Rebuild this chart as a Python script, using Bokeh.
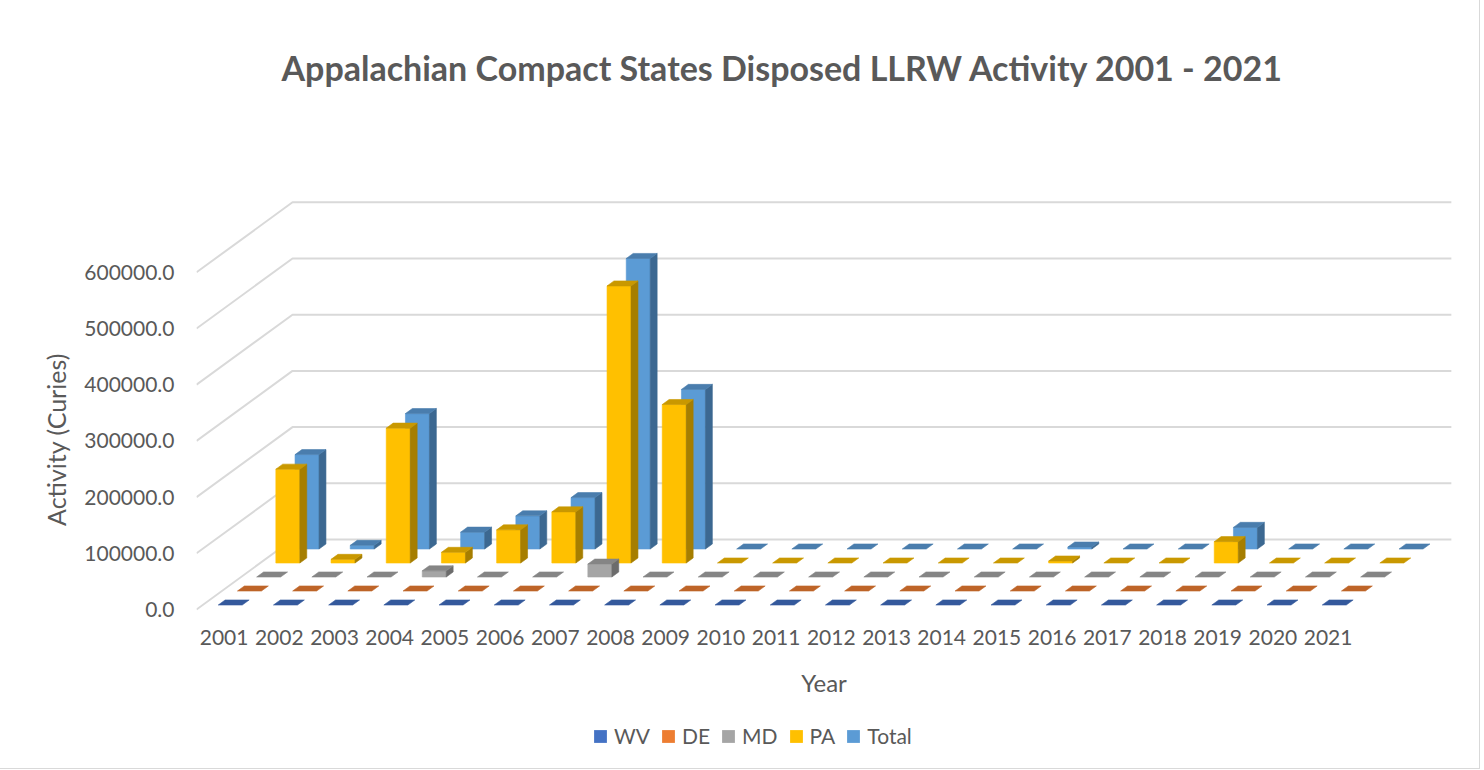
import numpy as np
from bokeh.plotting import figure
from bokeh.models import Range1d, FixedTicker, PrintfTickFormatter, Legend, LegendItem
from bokeh.embed import file_html
from bokeh.resources import INLINE

# ---------------- data ----------------
years = ["2001", "2002", "2003", "2004", "2005", "2006", "2007", "2008", "2009", "2010", "2011",
         "2012", "2013", "2014", "2015", "2016", "2017", "2018", "2019", "2020", "2021"]
series_names = ["WV", "DE", "MD", "PA", "Total"]
wv = [0, 0, 0, 0, 0, 0, 0, 0, 0, 0, 0, 0, 0, 0, 0, 0, 0, 0, 0, 0, 0]
de = [0, 0, 0, 0, 0, 0, 0, 0, 0, 0, 0, 0, 0, 0, 0, 0, 0, 0, 0, 0, 0]
md = [0, 0, 0, 11000, 0, 0, 23000, 0, 0, 0, 0, 0, 0, 0, 0, 0, 0, 0, 0, 0, 0]
pa = [167000, 6500, 240000, 19000, 59000, 91000, 493000, 282000, 0, 0, 0,
      0, 0, 0, 3500, 0, 0, 38000, 0, 0, 0]
total = [168000, 6500, 241000, 30000, 59000, 91500, 517000, 284000, 0, 0, 0,
         0, 0, 0, 3500, 0, 0, 38500, 0, 0, 0]
y_ticks = [0, 100000, 200000, 300000, 400000, 500000, 600000]

front_colors = ["#4472C4", "#ED7D31", "#A5A5A5", "#FFC000", "#5B9BD5"]
top_colors = ["#34599C", "#BE6428", "#858585", "#C99800", "#4A7DAD"]
side_colors = ["#2C4B84", "#9E5420", "#6C6C6C", "#A67E00", "#3C6891"]

TEXT = "#595959"
FONT = "Lato"

# ---------------- geometry (pixels) ----------------
CAT_PX = 55.2      # px per category
VAL_PX = 56.2      # px per 100000
DX_PX = 19.2       # depth offset per series row (x)
DY_PX = 14.0       # depth offset per series row (y)
FRAME_W = 1255
ABOVE_PX = 499     # frame height above the value-0 floor edge
BELOW_PX = 159     # frame height below it (category labels, axis title, legend)

DDX = DX_PX / CAT_PX
DDY = DY_PX / VAL_PX * 100000
BAR_W = 24 / CAT_PX
BAR_D = 0.36
N_ROWS = len(series_names)
N_CAT = len(years)

p = figure(frame_width=FRAME_W, frame_height=ABOVE_PX + BELOW_PX,
           output_backend="svg", toolbar_location=None,
           x_range=Range1d(-0.5, -0.5 + FRAME_W / CAT_PX),
           y_range=Range1d(-BELOW_PX / VAL_PX * 100000, ABOVE_PX / VAL_PX * 100000),
           min_border_left=196, min_border_right=28, min_border_top=110, min_border_bottom=0)
p.styles = {"outline": "1px solid #D9D9D9"}
p.outline_line_color = None
p.grid.visible = False
p.background_fill_color = "white"
p.border_fill_color = "white"

# ---------------- walls: gridlines ----------------
gx, gy = [], []
for v in y_ticks:
    gx.append([-0.5, -0.5 + N_ROWS * DDX, N_CAT - 0.5 + N_ROWS * DDX])
    gy.append([v, v + N_ROWS * DDY, v + N_ROWS * DDY])
p.multi_line(gx, gy, line_color="#D9D9D9", line_width=2)

# ---------------- 3D bars ----------------
all_series = [wv, de, md, pa, total]
xs, ys, cols = [], [], []
for k in reversed(range(N_ROWS)):
    vals = all_series[k]
    d0 = k + 0.5 - BAR_D / 2
    ox = BAR_D * DDX
    oy = BAR_D * DDY
    for i, v in enumerate(vals):
        xl = i - BAR_W / 2 + d0 * DDX
        xr = i + BAR_W / 2 + d0 * DDX
        yb = d0 * DDY
        yt = v + d0 * DDY
        if v > 0:
            xs.append([xl, xr, xr, xl]); ys.append([yb, yb, yt, yt]); cols.append(front_colors[k])
            xs.append([xr, xr + ox, xr + ox, xr]); ys.append([yb, yb + oy, yt + oy, yt]); cols.append(side_colors[k])
        xs.append([xl, xr, xr + ox, xl + ox]); ys.append([yt, yt, yt + oy, yt + oy]); cols.append(top_colors[k])
p.patches(xs, ys, fill_color=cols, line_color=cols, line_width=0.6)

# ---------------- axes ----------------
yax = p.yaxis[0]
yax.ticker = FixedTicker(ticks=y_ticks)
yax.formatter = PrintfTickFormatter(format="%.1f")
yax.axis_line_color = None
yax.major_tick_line_color = None
yax.minor_tick_line_color = None
yax.major_tick_out = 0
yax.major_label_standoff = 22
yax.major_label_text_font = FONT
yax.major_label_text_font_size = "21px"
yax.major_label_text_color = TEXT
yax.axis_label = "Activity (Curies)"
yax.axis_label_text_font = FONT
yax.axis_label_text_font_size = "25px"
yax.axis_label_text_font_style = "normal"
yax.axis_label_text_color = TEXT
yax.axis_label_standoff = 10

xax = p.xaxis[0]
xax.fixed_location = 0
xax.ticker = FixedTicker(ticks=list(range(N_CAT)))
xax.major_label_overrides = {i: y for i, y in enumerate(years)}
xax.axis_line_color = None
xax.major_tick_line_color = None
xax.minor_tick_line_color = None
xax.major_tick_out = 0
xax.major_label_standoff = 20
xax.major_label_text_font = FONT
xax.major_label_text_font_size = "21px"
xax.major_label_text_color = TEXT
xax.axis_label = "Year"
xax.axis_label_text_font = FONT
xax.axis_label_text_font_size = "24px"
xax.axis_label_text_font_style = "normal"
xax.axis_label_text_color = TEXT
xax.axis_label_standoff = 20

# ---------------- title ----------------
p.title.text = "Appalachian Compact States Disposed LLRW Activity 2001 - 2021"
p.title.align = "left"
p.title.offset = 85
p.title.text_font = FONT
p.title.text_font_style = "bold"
p.title.text_font_size = "34px"
p.title.text_color = TEXT
p.title.standoff = 45

# ---------------- legend ----------------
items = []
for k, name in enumerate(series_names):
    r = p.quad(left=[-9], right=[-8], top=[-9e5], bottom=[-1e6], fill_color=front_colors[k], line_color=None)
    items.append(LegendItem(label=name, renderers=[r]))
legend = Legend(items=items, orientation="horizontal", location=(396, 20),
                glyph_width=16, glyph_height=16, label_text_font=FONT,
                label_text_font_size="21px", label_text_color=TEXT,
                spacing=10, label_standoff=6, border_line_color=None,
                background_fill_alpha=0, padding=0, margin=0)
p.add_layout(legend, "center")

open("out.html", "w").write(file_html(p, INLINE))
